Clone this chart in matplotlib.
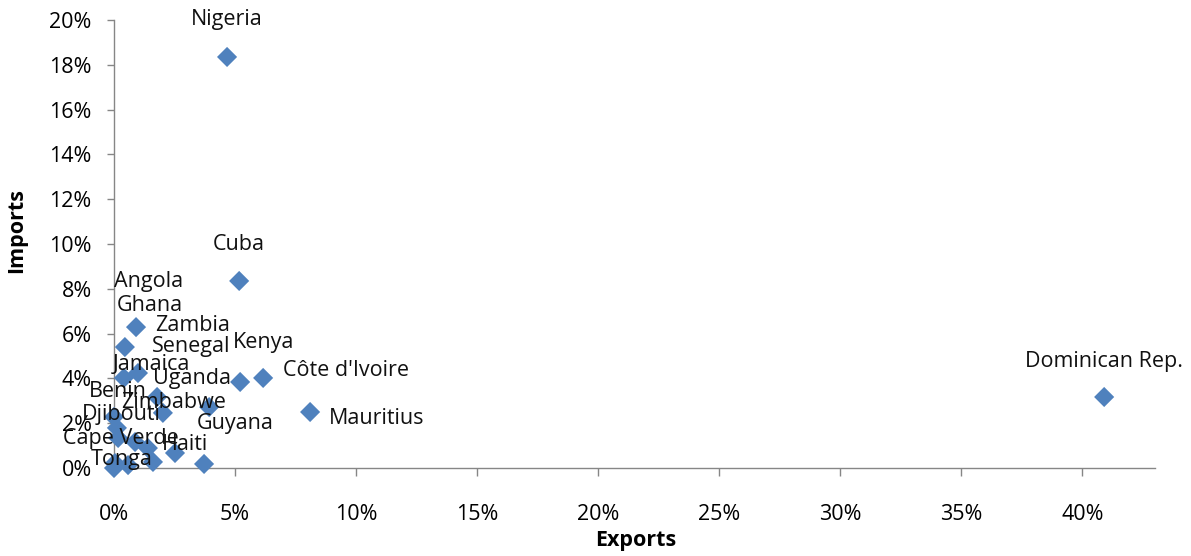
import matplotlib.pyplot as plt
from matplotlib.ticker import PercentFormatter, MultipleLocator

# values, in percent
countries = ["Nigeria", "Cuba", "Dominican Rep.", "Ghana", "Zambia", "Senegal",
             "Angola", "Kenya", "Côte d'Ivoire", "Jamaica", "Uganda", "Benin",
             "Zimbabwe", "Djibouti", "Guyana", "Mauritius", "Cape Verde", "Haiti",
             "Tonga", "", "", "", "", ""]
exports = [4.67, 5.17, 40.9, 0.91, 0.45, 0.99,
           0.41, 5.21, 6.16, 1.78, 3.93, 0.0,
           2.02, 0.12, 3.72, 8.10, 0.87, 2.52,
           0.0, 0.17, 1.40, 0.04, 0.58, 1.61]
imports = [18.35, 8.35, 3.17, 6.29, 5.40, 4.24,
           4.02, 3.84, 4.02, 3.17, 2.72, 2.28,
           2.46, 1.79, 0.18, 2.50, 1.16, 0.67,
           0.0, 1.34, 0.89, 0.22, 0.13, 0.27]

# where each label sits relative to its marker (pixels), and alignment
label_pos = {
    "Nigeria": (0, 37, "center"), "Cuba": (0, 36, "center"),
    "Dominican Rep.": (0, 35, "center"), "Ghana": (-19, 22, "left"),
    "Zambia": (30, 22, "left"), "Senegal": (14, 27, "left"),
    "Angola": (-10, 96, "left"), "Kenya": (-7, 39, "left"),
    "Côte d'Ivoire": (20, 7, "left"), "Jamaica": (-44, 32, "left"),
    "Uganda": (-56, 29, "left"), "Benin": (-25, 25, "left"),
    "Zimbabwe": (-42, 10, "left"), "Djibouti": (-35, 13, "left"),
    "Guyana": (-7, 40, "left"), "Mauritius": (19, -6, "left"),
    "Cape Verde": (-72, 4, "left"), "Haiti": (-13, 8, "left"),
    "Tonga": (-23, 8, "left"),
}

plt.rcParams['font.family'] = ['Open Sans', 'DejaVu Sans']
FS = 15.5
GRID = "#868686"

fig = plt.figure(figsize=(11.91, 5.56), dpi=100)
ax = fig.add_axes([114/1191, 1 - 468/556, 1041/1191, 448/556])

ax.scatter(exports, imports, marker="D", s=105, color="#4F81BD",
           edgecolors="none", zorder=3, clip_on=False)

for name, x, y in zip(countries, exports, imports):
    if not name:
        continue
    dx, dy, ha = label_pos[name]
    ax.annotate(name, (x, y), xytext=(dx, dy), textcoords="offset pixels",
                ha=ha, va="center", fontsize=FS, color="#111111", zorder=4,
                annotation_clip=False)

ax.set_xlim(0, 43)
ax.set_ylim(0, 20)
ax.xaxis.set_major_locator(MultipleLocator(5))
ax.yaxis.set_major_locator(MultipleLocator(2))
ax.xaxis.set_major_formatter(PercentFormatter(decimals=0))
ax.yaxis.set_major_formatter(PercentFormatter(decimals=0))

for s in ["top", "right"]:
    ax.spines[s].set_visible(False)
for s in ["left", "bottom"]:
    ax.spines[s].set_color(GRID)
    ax.spines[s].set_linewidth(1)

ax.tick_params(axis="x", direction="out", length=6, width=1, color=GRID,
               pad=20, labelsize=FS)
ax.tick_params(axis="y", direction="out", length=5, width=1, color=GRID,
               pad=11, labelsize=FS)

ax.set_xlabel("Exports", fontsize=FS, fontweight="bold")
ax.set_ylabel("Imports", fontsize=FS, fontweight="bold")
ax.xaxis.set_label_coords(0.501, -0.138)
ax.yaxis.set_label_coords(-0.083, 0.531)

fig.savefig("out.png", dpi=100)
